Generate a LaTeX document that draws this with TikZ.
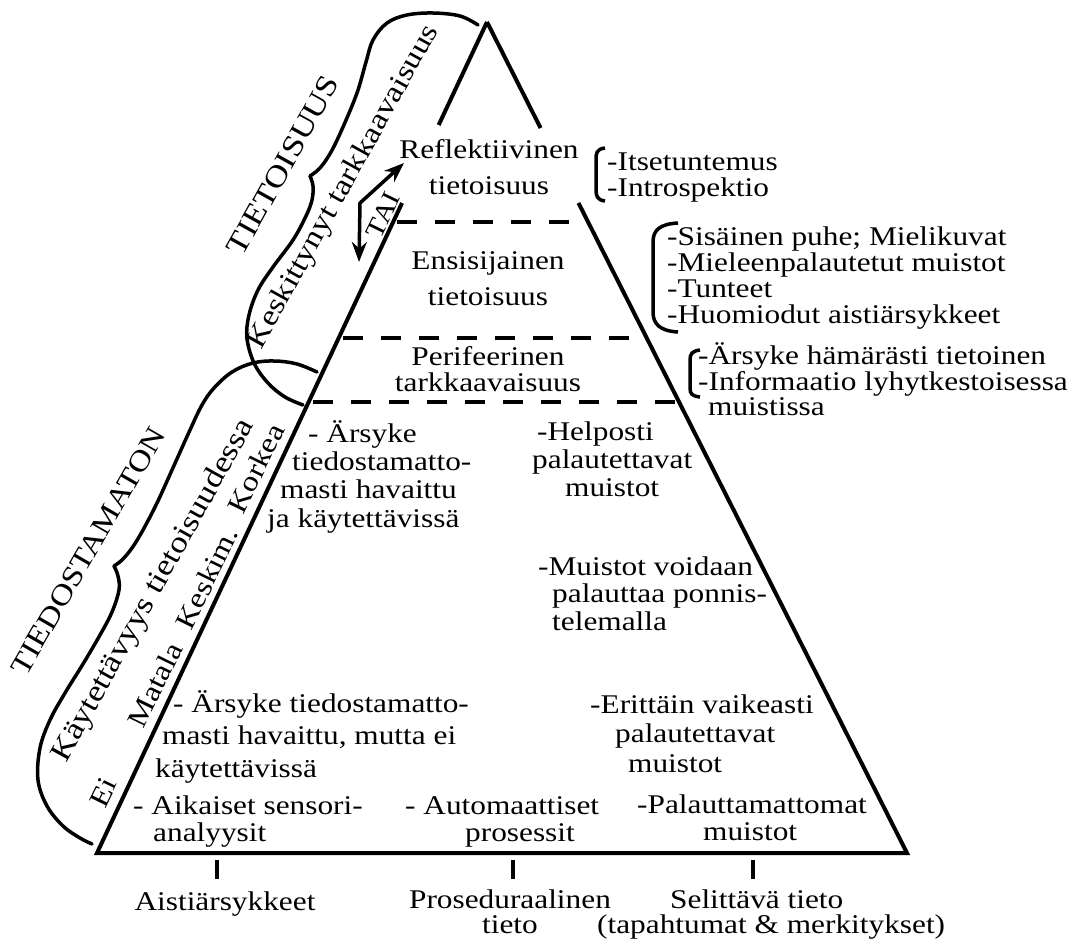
\documentclass[tikz,border=0pt]{standalone}
\usepackage{fontspec}
\setmainfont{Liberation Serif}[FakeStretch=1.16]
\usepackage{tikz}
\usetikzlibrary{arrows.meta,calc}

\begin{document}
\begin{tikzpicture}[x=1pt, y=-1pt,
    edge/.style={line width=4pt, line join=miter},
    level/.style={line width=4pt, dash pattern=on 20pt off 18pt, dash phase=-4pt},
    brace/.style={line width=3.5pt, line cap=round},
    bracket/.style={line width=3.5pt},
    tick/.style={line width=4pt},
    txt/.style={font=\fontsize{27}{26}\selectfont, inner sep=0pt, align=left, anchor=base west},
    ctxt/.style={font=\fontsize{27}{26}\selectfont, inner sep=0pt, align=center, anchor=base},
    side/.style={font=\fontsize{30}{30}\selectfont, inner sep=0pt},
    small/.style={font=\fontsize{28}{28}\selectfont, inner sep=0pt, rotate=64},
    arr/.style={{Stealth[length=20pt,width=15pt]}-{Stealth[length=20pt,width=15pt]}, line width=3.5pt}
]
    \useasboundingbox (0,0) rectangle (1085,940);

    % Pyramid
    \coordinate (apex) at (487,22);
    \coordinate (bl) at (97,853);
    \coordinate (br) at (907,853);
    \draw[edge] (apex) -- ($(apex)!0.124!(bl)$);
    \draw[edge] (apex) -- ($(apex)!0.1276!(br)$);
    \draw[edge] ($(apex)!0.2178!(bl)$) -- (bl) -- (br) -- ($(apex)!0.2178!(br)$);

    % Level borders
    \draw[level] ($(apex)!0.2407!(bl)$) -- ($(apex)!0.2407!(br)$);
    \draw[level] ($(apex)!0.3803!(bl)$) -- ($(apex)!0.3803!(br)$);
    \draw[level] ($(apex)!0.4573!(bl)$) -- ($(apex)!0.4573!(br)$);

    % Levels (anchored at the last line)
    \node[ctxt] (refl) at (489,194) {Reflektiivinen\\[10pt]tietoisuus};
    \node[ctxt] (ensi) at (488,305) {Ensisijainen\\[10pt]tietoisuus};
    \node[ctxt] (peri) at (488,391) {Perifeerinen\\tarkkaavaisuus};

    % TAI arrow
    \coordinate (taidown) at (359,262);
    \coordinate (taibend) at (360,203);
    \coordinate (taiup) at (404,163);
    \draw[arr] (taidown) -- (taibend) -- (taiup);
    \node[small, font=\fontsize{26}{26}\selectfont] (tai) at (383,215) {TAI};

    % Right side lists
    \node[txt] (itse) at (607,196) {-Itsetuntemus\\-Introspektio};
    \node[txt] (sisa) at (667,323) {-Sisäinen puhe; Mielikuvat\\-Mieleenpalautetut muistot\\-Tunteet\\-Huomiodut aistiärsykkeet};
    \node[txt, font=\fontsize{27}{24.5}\selectfont] (hama) at (698,415) {-Ärsyke hämärästi tietoinen\\-Informaatio lyhytkestoisessa\\\hspace*{10pt}muistissa};
    \draw[bracket] (605,148) .. controls (596,149) and (596,154) .. (596,160) -- (596,189) .. controls (596,196) and (597,200) .. (605,201);
    \draw[bracket] (678,223) .. controls (660,224) and (653,230) .. (653,242) -- (653,312) .. controls (653,324) and (660,331) .. (678,332);
    \draw[bracket] (700,350) .. controls (692,351) and (690,354) .. (690,360) -- (690,388) .. controls (690,394) and (692,396) .. (700,397);

    % Inside the pyramid
    \node[txt, font=\fontsize{27}{28.3}\selectfont] (havk) at (267,527) {\hspace*{41pt}- Ärsyke\\\hspace*{25pt}tiedostamatto-\\\hspace*{13pt}masti havaittu\\ja käytettävissä};
    \node[txt, font=\fontsize{27}{28}\selectfont] (help) at (532,496) {\hspace*{5pt}-Helposti\\palautettavat\\\hspace*{33pt}muistot};
    \node[txt, font=\fontsize{27}{27.5}\selectfont] (muis) at (538,630) {-Muistot voidaan\\\hspace*{14pt}palauttaa ponnis-\\\hspace*{14pt}telemalla};
    \node[txt, font=\fontsize{27}{32.5}\selectfont] (hava) at (155,777) {\hspace*{18pt}- Ärsyke tiedostamatto-\\\hspace*{7pt}masti havaittu, mutta ei\\käytettävissä};
    \node[txt, font=\fontsize{27}{29.5}\selectfont] (erit) at (590,772) {-Erittäin vaikeasti\\\hspace*{25pt}palautettavat\\\hspace*{38pt}muistot};
    \node[txt, font=\fontsize{27}{27}\selectfont] (aika) at (133,841) {- Aikaiset sensori-\\\hspace*{20pt}analyysit};
    \node[txt, font=\fontsize{27}{27}\selectfont] (auto) at (405,841) {- Automaattiset\\\hspace*{60pt}prosessit};
    \node[txt, font=\fontsize{27}{27}\selectfont] (pala) at (637,840) {-Palauttamattomat\\\hspace*{66pt}muistot};

    % Bottom labels
    \draw[tick] (217,860) -- (217,879);
    \draw[tick] (513,860) -- (513,879);
    \draw[tick] (753,860) -- (753,879);
    \node[ctxt] (aist) at (225,910) {Aistiärsykkeet};
    \node[ctxt, font=\fontsize{27}{25}\selectfont] (pros) at (510,933) {Proseduraalinen\\tieto};
    \node[txt, font=\fontsize{27}{25}\selectfont] (seli) at (597,933) {\hspace*{73pt}Selittävä tieto\\(tapahtumat \& merkitykset)};

    % Brace: conscious
    \draw[brace] plot[smooth, tension=0.6] coordinates {(478,25) (460,16) (433,13) (407,15) (387,23) (373,40) (366,62) (357,93) (343,127) (331,152) (320,168) (310,176)};
    \draw[brace] plot[smooth, tension=0.6] coordinates {(310,176) (313,186) (312,200) (306,216) (293,240) (273,267) (258,290) (249,315) (247,338) (254,363) (268,383) (285,397) (303,405)};
    \node[side, rotate=61] (tiet) at (283,165) {TIETOISUUS};
    \node[side, font=\fontsize{29}{29}\selectfont, rotate=61] (kesk) at (344,187) {Keskittynyt tarkkaavaisuus};

    % Brace: unconscious
    \draw[brace] plot[smooth, tension=0.6] coordinates {(317,372) (297,364) (275,361) (253,363) (232,372) (214,388) (202,405) (190,430) (172,470) (157,503) (143,530) (132,548) (122,560) (114,566)};
    \draw[brace] plot[smooth, tension=0.6] coordinates {(114,566) (118,576) (119,590) (112,612) (100,635) (83,664) (65,693) (50,720) (40,748) (38,780) (47,806) (63,826) (80,838) (92,844)};
    \node[side, font=\fontsize{29}{29}\selectfont, rotate=60] (tied) at (88,551) {TIEDOSTAMATON};
    \node[side, rotate=61] (kayt) at (154,591) {Käytettävyys tietoisuudessa};
    \node[small] (ei) at (103,792) {Ei};
    \node[small] (mata) at (155,685) {Matala};
    \node[small] (kesm) at (207,578) {Keskim.};
    \node[small] (kork) at (256,468) {Korkea};
\end{tikzpicture}
\end{document}
